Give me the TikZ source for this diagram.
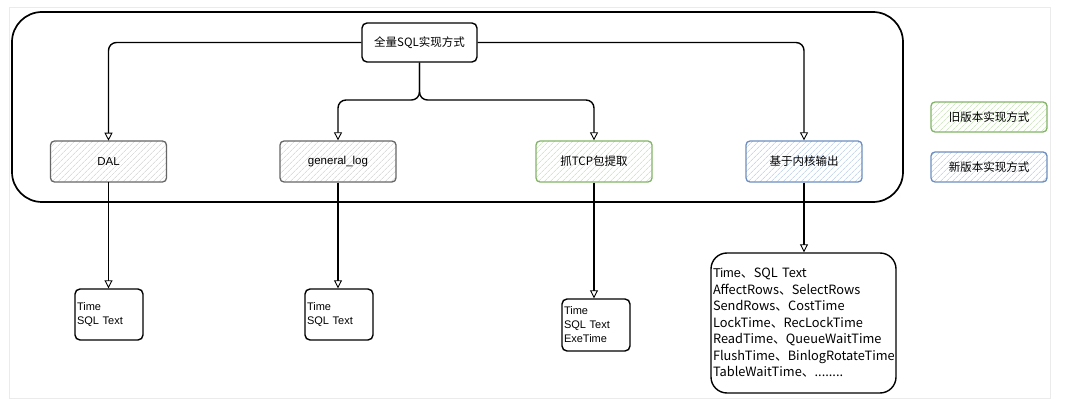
\documentclass[tikz,border=0pt]{standalone}
\usepackage{fontspec}
\setmainfont{Liberation Sans}
\newfontfamily\cjk{Noto Sans CJK SC}
\usetikzlibrary{arrows.meta,patterns.meta}
\definecolor{greenline}{HTML}{82B366}
\definecolor{greenhatch}{HTML}{B9E0A5}
\definecolor{blueline}{HTML}{6C8EBF}
\definecolor{bluehatch}{HTML}{A9C4EB}
\tikzset{
  conn/.style={draw=black, line width=1.4pt, rounded corners=8pt,
    -{Triangle[open,length=8pt,width=8pt,fill=white,line width=0.9pt]}},
  proc/.style={draw, rounded corners=4pt, minimum width=116pt, minimum height=41pt,
    line width=1.3pt, font=\fontsize{11.5}{14}\selectfont, inner sep=2pt},
  greybox/.style={proc, draw=black!60,
    pattern={Lines[angle=45,distance=4pt,line width=0.6pt]}, pattern color=black!20},
  greenbox/.style={proc, draw=greenline,
    pattern={Lines[angle=45,distance=4pt,line width=0.6pt]}, pattern color=greenhatch},
  bluebox/.style={proc, draw=blueline,
    pattern={Lines[angle=45,distance=4pt,line width=0.6pt]}, pattern color=bluehatch},
  resbox/.style={draw, line width=1.4pt, rounded corners=5pt, align=left,
    inner sep=2pt, font=\fontsize{11}{14}\selectfont},
}
\begin{document}
\begin{tikzpicture}[x=1pt,y=-1pt]
\useasboundingbox[fill=white] (0,0) rectangle (1080,409);
\draw[black!8, line width=1pt] (9,8) rectangle (1050,398);
% main container
\node[draw, line width=1.7pt, rounded corners=30pt, minimum width=891pt, minimum height=190pt] (frame) at (457.5,107) {};
% top node
\node[draw, line width=1.4pt, rounded corners=5pt, minimum width=115pt, minimum height=39pt, fill=white,
  font=\fontsize{11.5}{14}\selectfont] (top) at (419.5,42.5) {\cjk{全量}SQL\cjk{实现方式}};
% second row
\node[greybox] (dal) at (108.5,161.5) {DAL};
\node[greybox] (glog) at (338,161.5) {general\_log};
\node[greenbox] (tcp) at (594,161.5) {\cjk{抓}TCP\cjk{包提取}};
\node[bluebox] (kern) at (804,161.5) {\cjk{基于内核输出}};
% legend
\node[greenbox, minimum height=30pt] (legold) at (989,117) {\cjk{旧版本实现方式}};
\node[bluebox, minimum height=30pt] (legnew) at (989,167) {\cjk{新版本实现方式}};
% results
\node[resbox, text width=64pt, minimum height=51pt] (rdal) at (109,314.5) {Time\\SQL Text};
\node[resbox, text width=64pt, minimum height=51pt] (rglog) at (339,314.5) {Time\\SQL Text};
\node[resbox, text width=64pt, minimum height=52pt] (rtcp) at (596,325) {Time\\SQL Text\\ExeTime};
\node[resbox, rounded corners=16pt, text width=181pt, minimum height=140pt,
  font=\fontsize{12.8}{16.5}\selectfont] (rkern) at (803.5,323)
  {Time\cjk{、}SQL Text\\AffectRows\cjk{、}SelectRows\\SendRows\cjk{、}CostTime\\LockTime\cjk{、}RecLockTime\\ReadTime\cjk{、}QueueWaitTime\\FlushTime\cjk{、}BinlogRotateTime\\TableWaitTime\cjk{、}........};
% connectors
\coordinate (split) at (419.5,100);
\draw[conn] (top.west) -| (dal.north);
\draw[conn] (top.east) -| (kern.north);
\draw[conn] (top.south) -- (split) -| (glog.north);
\draw[conn] (top.south) -- (split) -| (tcp.north);
\draw[conn] (dal.south) -- (dal.south |- rdal.north);
\draw[conn] (glog.south) -- (glog.south |- rglog.north);
\draw[conn] (tcp.south) -- (tcp.south |- rtcp.north);
\draw[conn] (kern.south) -- (kern.south |- rkern.north);
\end{tikzpicture}
\end{document}
